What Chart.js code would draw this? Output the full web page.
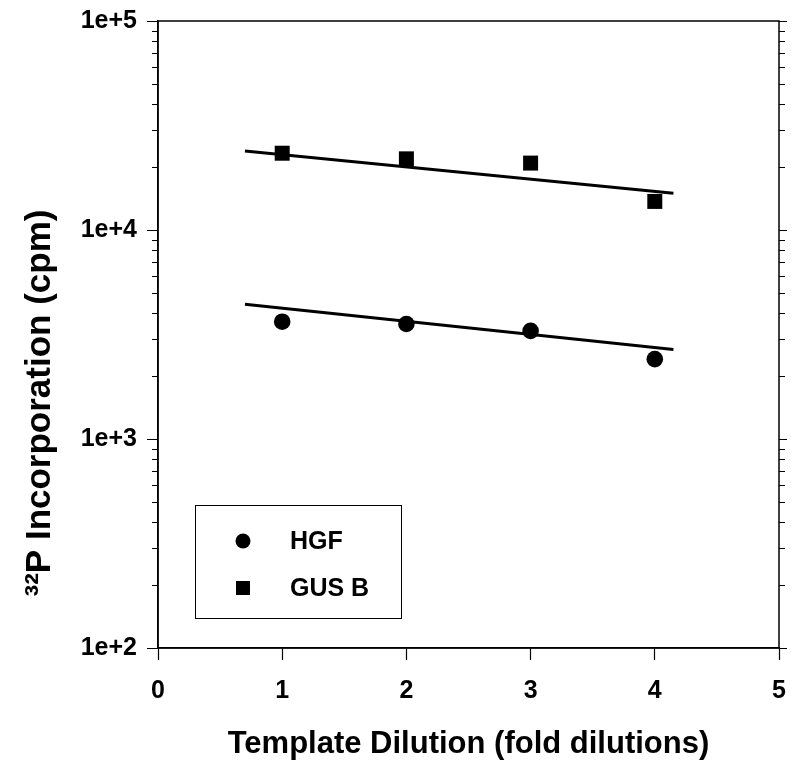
<!DOCTYPE html>
<html>
<head>
<meta charset="utf-8">
<script src="https://cdn.jsdelivr.net/npm/chart.js@4.4.1/dist/chart.umd.min.js"></script>
<style>
html,body{margin:0;padding:0;background:#fff}
#wrap{width:792px;height:773px}
</style>
</head>
<body>
<div id="wrap"><canvas id="c" width="792" height="773"></canvas></div>
<script>
// values
const dilution=[1,2,3,4];
const hgf=[3640,3550,3290,2410];
const gusb=[23300,21900,20900,13700];
// fitted lines (end points)
const fitX=[0.7,4.15];
const hgfFit=[4410,2680];
const gusbFit=[23900,15000];
const xTicks=[0,1,2,3,4,5];
const yMajor=[100,1000,10000,100000];

const FONT='"Liberation Sans", Arial, Helvetica, sans-serif';

function pts(xs,ys){return xs.map((x,i)=>({x:x,y:ys[i]}));}

// all log ticks 1..9 x 10^n
const yAll=[];
yMajor.forEach((v,i)=>{
if(i===yMajor.length-1){yAll.push(v);return;}
for(let k=1;k<10;k++) yAll.push(k*v);
});

function noPad(s){s.paddingLeft=0;s.paddingRight=0;s.paddingTop=0;s.paddingBottom=0;}

const frame={
id:'frame',
afterDraw(chart){
const ctx=chart.ctx, a=chart.chartArea, y=chart.scales.y;
ctx.save();
ctx.strokeStyle='#000';
ctx.lineWidth=1.5;
ctx.strokeRect(a.left,a.top,a.right-a.left,a.bottom-a.top);
// y ticks, left and right, outward
ctx.lineWidth=1.2;
yAll.forEach(v=>{
const p=Math.round(y.getPixelForValue(v))+0.5;
const major=yMajor.includes(v);
const L=major?11:6, R=major?8:6;
ctx.beginPath();
ctx.moveTo(a.left-L,p);ctx.lineTo(a.left,p);
ctx.moveTo(a.right,p);ctx.lineTo(a.right+R,p);
ctx.stroke();
});
// y title
ctx.fillStyle='#000';
ctx.font='bold 35px '+FONT;
ctx.textAlign='center';
ctx.textBaseline='middle';
ctx.translate(40,403);
ctx.rotate(-Math.PI/2);
ctx.fillText('\u00B3\u00B2P Incorporation (cpm)',0,0);
ctx.restore();

// legend
ctx.save();
ctx.strokeStyle='#000';
ctx.lineWidth=1;
ctx.strokeRect(195.5,505.5,206,113);
ctx.fillStyle='#000';
ctx.font='bold 25px '+FONT;
ctx.textAlign='left';
ctx.textBaseline='middle';
const items=chart.data.datasets.filter(d=>d.inLegend);
items.forEach((d,i)=>{
const cy=541+i*47, cx=243;
if(d.pointStyle==='rect'){ctx.fillRect(cx-7,cy-7,14,14);}
else{ctx.beginPath();ctx.arc(cx,cy,7.5,0,Math.PI*2);ctx.fill();}
ctx.fillText(d.label,290,cy+1);
});
ctx.restore();
}
};

new Chart(document.getElementById('c'),{
type:'scatter',
data:{
datasets:[
{label:'HGF',inLegend:true,data:pts(dilution,hgf),pointStyle:'circle',pointRadius:8.3,backgroundColor:'#000',borderColor:'#000',borderWidth:0},
{label:'GUS B',inLegend:true,data:pts(dilution,gusb),pointStyle:'rect',pointRadius:10.6,backgroundColor:'#000',borderColor:'#000',borderWidth:0},
{label:'HGF fit',data:pts(fitX,hgfFit),showLine:true,pointRadius:0,borderColor:'#000',borderWidth:3},
{label:'GUS B fit',data:pts(fitX,gusbFit),showLine:true,pointRadius:0,borderColor:'#000',borderWidth:3}
]
},
options:{
responsive:false,
animation:false,
devicePixelRatio:1,
layout:{padding:{top:21,right:13,left:0,bottom:0}},
plugins:{legend:{display:false},tooltip:{enabled:false}},
scales:{
x:{
type:'linear',min:0,max:5,
afterBuildTicks(s){s.ticks=xTicks.map(v=>({value:v}));},
afterFit(s){s.height=125;noPad(s);},
border:{display:true,color:'#000',width:1.5},
grid:{drawOnChartArea:false,drawTicks:true,tickLength:12,tickColor:'#000',tickWidth:1.2},
ticks:{color:'#000',font:{family:FONT,size:25,weight:'bold'},padding:16,maxRotation:0,callback:v=>String(v)},
title:{display:true,text:'Template Dilution (fold dilutions)',color:'#000',font:{family:FONT,size:31,weight:'bold'},padding:{top:0,bottom:10}}
},
y:{
type:'logarithmic',min:100,max:100000,
afterBuildTicks(s){s.ticks=yAll.map(v=>({value:v,major:yMajor.includes(v)}));},
afterFit(s){s.width=158;noPad(s);},
border:{display:true,color:'#000',width:1.5},
grid:{drawOnChartArea:false,drawTicks:false},
ticks:{color:'#000',font:{family:FONT,size:25,weight:'bold'},padding:21,autoSkip:false,
callback:v=>yMajor.includes(v)?'1e+'+Math.round(Math.log10(v)):''}
}
}
},
plugins:[frame]
});
</script>
</body>
</html>
